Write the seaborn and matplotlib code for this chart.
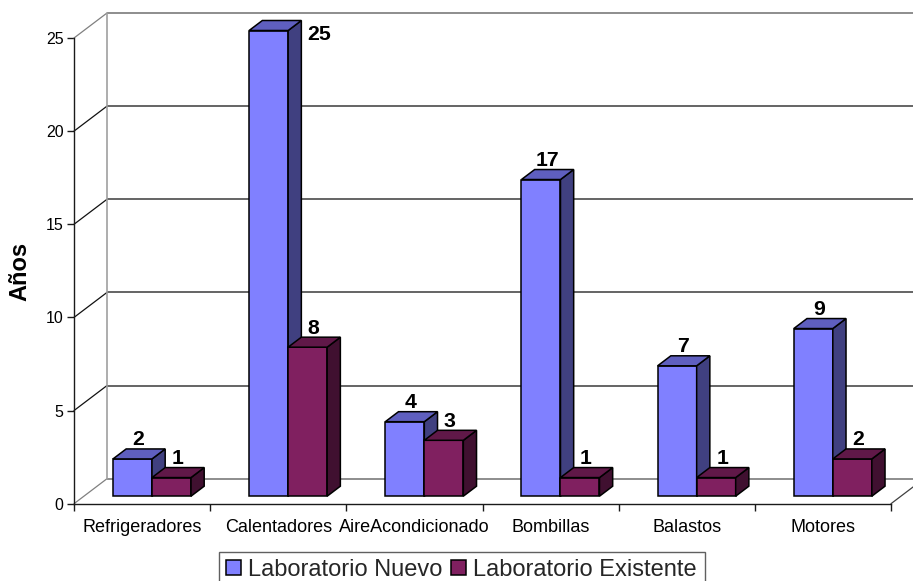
import matplotlib
matplotlib.use("Agg")
import matplotlib.pyplot as plt
from matplotlib.patches import Polygon, Rectangle
import pandas as pd
import seaborn as sns

categories = ["Refrigeradores", "Calentadores", "AireAcondicionado",
              "Bombillas", "Balastos", "Motores"]
lab_nuevo = [2, 25, 4, 17, 7, 9]
lab_existente = [1, 8, 3, 1, 1, 2]
series_names = ["Laboratorio Nuevo", "Laboratorio Existente"]
y_ticks = [0, 5, 10, 15, 20, 25]

FRONT = ["#8080FF", "#802060"]
TOP = ["#5F5FBF", "#601848"]
SIDE = ["#404080", "#401030"]

W, H = 913, 581
sns.set_theme(style="white")
plt.rcParams["font.family"] = ["Liberation Sans", "DejaVu Sans"]

df = pd.DataFrame({
    "categoria": categories * 2,
    "serie": [series_names[0]] * 6 + [series_names[1]] * 6,
    "valor": lab_nuevo + lab_existente,
})

fig = plt.figure(figsize=(W / 100, H / 100), dpi=100, facecolor="white")
# Front plane of the pseudo-3D box, in pixel terms
left, right, bottom, top = 74.0, 891.0, 503.7, 38.0
ax = fig.add_axes([left / W, 1 - bottom / H, (right - left) / W, (bottom - top) / H])
ax.patch.set_visible(False)

sns.barplot(data=df, x="categoria", y="valor", hue="serie", order=categories,
            hue_order=series_names, palette=FRONT, width=0.573, gap=0,
            saturation=1, errorbar=None, edgecolor="black", linewidth=1.1,
            ax=ax, zorder=3)
ax.set_xlim(-0.5, 5.5)
ax.set_ylim(0, 25)

# Depth of the box expressed in data units
px_x = (right - left) / 6
px_y = (bottom - top) / 25
DX, DY = 33 / px_x, 25 / px_y
bar_off, bar_depth = 0.3, 0.4

# Back wall, gridlines and the diagonals joining them to the value axis
x0, x1 = -0.5, 5.5
for v in y_ticks:
    edge = v in (0, 25)
    ax.plot([x0 + DX, x1 + DX], [v + DY, v + DY], color="#7a7a7a" if edge else "#4a4a4a",
            lw=1.2, clip_on=False, zorder=1, solid_capstyle="butt")
    ax.plot([x0, x0 + DX], [v, v + DY], color="#808080" if edge else "#111111",
            lw=0.9, clip_on=False, zorder=1)
ax.plot([x0 + DX, x0 + DX], [DY, 25 + DY], color="#a0a0a0", lw=1.2, clip_on=False, zorder=1)
ax.plot([x1, x1 + DX], [0, DY], color="#404040", lw=0.9, clip_on=False, zorder=1)

# Shift the front faces into the box and extrude each one
z = 3.0
for s, container in enumerate(ax.containers):
    for i, bar in enumerate(container.patches):
        bar.set_x(bar.get_x() + DX * bar_off)
        bar.set_y(DY * bar_off)
        bar.set_clip_on(False)
        xa, w, h = bar.get_x(), bar.get_width(), bar.get_height()
        ya = bar.get_y()
        ddx, ddy = DX * bar_depth, DY * bar_depth
        z = 3 + i + s * 0.5
        bar.set_zorder(z)
        side = Polygon([(xa + w, ya), (xa + w + ddx, ya + ddy),
                        (xa + w + ddx, ya + h + ddy), (xa + w, ya + h)],
                       facecolor=SIDE[s], edgecolor="black", lw=1.1, clip_on=False, zorder=z)
        cap = Polygon([(xa, ya + h), (xa + ddx, ya + h + ddy),
                       (xa + w + ddx, ya + h + ddy), (xa + w, ya + h)],
                      facecolor=TOP[s], edgecolor="black", lw=1.1, clip_on=False, zorder=z)
        ax.add_patch(side)
        ax.add_patch(cap)
        # The tallest bar carries its label beside the column instead of above it
        offset = (50, -14) if h == 25 else (6, 9)
        ax.annotate(f"{h:g}", (xa + w / 2, ya + h + ddy), xytext=offset,
                    textcoords="offset pixels", ha="center", va="center",
                    fontsize=15.3, fontweight="bold", color="black",
                    annotation_clip=False, zorder=20)

# Axes furniture
for name in ("top", "right"):
    ax.spines[name].set_visible(False)
for name in ("left", "bottom"):
    ax.spines[name].set_color("#1a1a1a")
    ax.spines[name].set_linewidth(1.0)
    ax.spines[name].set_zorder(2)

ax.set_yticks(y_ticks)
ax.set_xticks(range(6))
ax.set_xticklabels(categories)
ax.set_xticks([v - 0.5 for v in range(7)], minor=True)
ax.tick_params(axis="x", which="major", length=0, pad=11, labelsize=13, colors="black")
ax.tick_params(axis="x", which="minor", length=5, width=1, color="#1a1a1a", bottom=True)
ax.tick_params(axis="y", which="major", length=5, width=1, pad=2.5, labelsize=11.5,
               color="#1a1a1a", labelcolor="black", left=True)
ax.set_xlabel("")
ax.set_ylabel("")
fig.text(20 / W, 1 - 271 / H, "Años", rotation=90, ha="center", va="center",
         fontsize=17, fontweight="bold", color="black")

# Legend box runs past the lower edge of the figure, so its frame is drawn separately
fig.add_artist(Rectangle((219.3 / W, 1 - 590 / H), (705 - 219.3) / W, 38 / H,
                         transform=fig.transFigure, facecolor="white",
                         edgecolor="#606060", lw=1.0))
handles, labels = ax.get_legend_handles_labels()
if ax.get_legend() is not None:
    ax.get_legend().remove()
leg = fig.legend(handles, labels, ncol=2, loc="upper left",
                 bbox_to_anchor=(219.3 / W, 1 - 552.5 / H), bbox_transform=fig.transFigure,
                 fontsize=17, frameon=False, borderpad=0.27, borderaxespad=0,
                 handlelength=0.65, handleheight=0.65, handletextpad=0.3, columnspacing=0.34)

fig.savefig("out.png", dpi=100, facecolor="white")
